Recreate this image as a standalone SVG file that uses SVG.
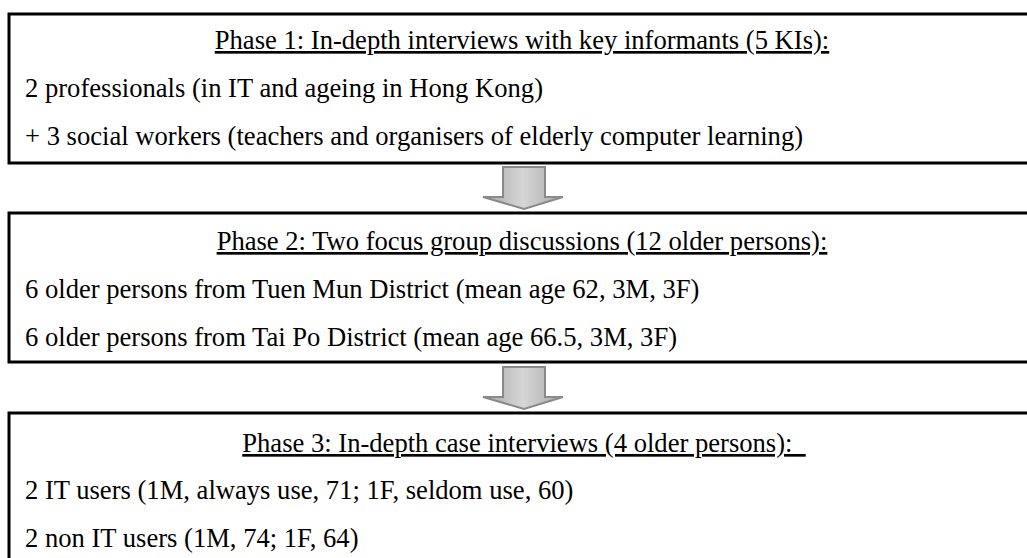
<svg xmlns="http://www.w3.org/2000/svg" width="1027" height="558" viewBox="0 0 1027 558">
<defs>
<linearGradient id="ag" x1="0" y1="0" x2="1" y2="0">
<stop offset="0" stop-color="#a8a8a8"/>
<stop offset="0.5" stop-color="#d6d6d6"/>
<stop offset="1" stop-color="#a8a8a8"/>
</linearGradient>
</defs>
<style>
.box{fill:#fff;stroke:#000;stroke-width:3}
.t{font-family:"Liberation Serif","Times New Roman",serif;font-size:26.6px;fill:#000}
.h{text-decoration:underline}
.arr{fill:url(#ag);stroke:#8a8a8a;stroke-width:2}
</style>
<rect width="1027" height="558" fill="#fff"/>
<g id="phase1">
<rect class="box" x="9" y="14" width="1040" height="149"/>
<text class="t h" x="522" y="49" text-anchor="middle">Phase 1: In-depth interviews with key informants (5 KIs):</text>
<text class="t" x="25" y="97">2 professionals (in IT and ageing in Hong Kong)</text>
<text class="t" x="25" y="145">+ 3 social workers (teachers and organisers of elderly computer learning)</text>
</g>
<g id="phase2">
<rect class="box" x="9" y="213" width="1040" height="149"/>
<text class="t h" x="522" y="250" text-anchor="middle">Phase 2: Two focus group discussions (12 older persons):</text>
<text class="t" x="25" y="298">6 older persons from Tuen Mun District (mean age 62, 3M, 3F)</text>
<text class="t" x="25" y="346">6 older persons from Tai Po District (mean age 66.5, 3M, 3F)</text>
</g>
<g id="phase3">
<rect class="box" x="9" y="413" width="1040" height="170"/>
<text class="t h" x="524" y="452" text-anchor="middle" xml:space="preserve">Phase 3: In-depth case interviews (4 older persons):  </text>
<text class="t" x="25" y="499">2 IT users (1M, always use, 71; 1F, seldom use, 60)</text>
<text class="t" x="25" y="547">2 non IT users (1M, 74; 1F, 64)</text>
</g>
<g id="connectors">
<path class="arr" d="M503,167 H545 V197 H563 L524,209 L483,197 H503 Z"/>
<path class="arr" d="M503,367 H545 V397 H563 L524,409 L483,397 H503 Z"/>
</g>
</svg>
